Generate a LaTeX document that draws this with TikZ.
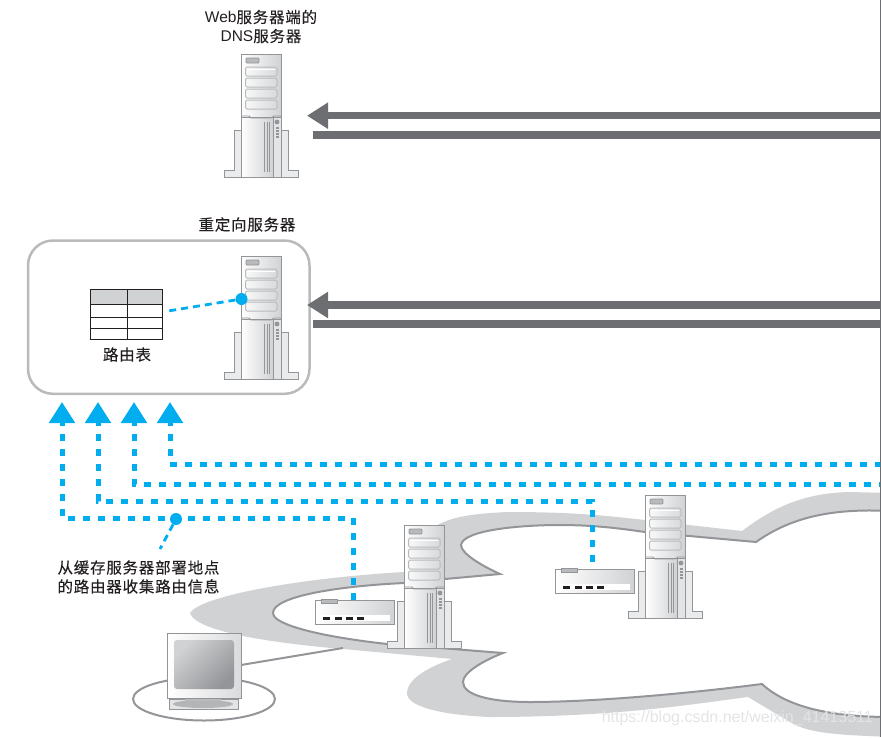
\documentclass[tikz,border=0pt]{standalone}
\usepackage{fontspec}
\setmainfont{Liberation Sans}
\newfontfamily\cjk[LetterSpace=5,FakeBold=0.15]{Noto Sans CJK SC}
\usetikzlibrary{arrows.meta}
\definecolor{ink}{HTML}{231F20}
\definecolor{skyb}{HTML}{00AEEF}
\definecolor{cloudg}{HTML}{D1D2D4}
\definecolor{edgeg}{HTML}{939598}
\definecolor{arrowg}{HTML}{6D6E71}
\definecolor{boxg}{HTML}{B9BABC}
\tikzset{
  lbl/.style={font=\fontsize{15.5}{19}\selectfont,text=ink,align=center,inner sep=0pt},
  part/.style={draw=edgeg,line width=.8pt},
  bay/.style={draw=boxg,line width=1pt,rounded corners=1.5pt,left color=cloudg!15,right color=cloudg!85},
  feed/.style={draw=skyb,line width=5pt,dash pattern=on 7pt off 8pt,dash phase=#1,-{Triangle[length=21pt,width=25pt]}},
  leader/.style={draw=skyb,line width=2.8pt,dash pattern=on 7pt off 5pt},
  dot/.style={circle,fill=skyb,inner sep=0pt,minimum size=12pt},
  flow/.style={draw=arrowg,line width=7.5pt},
  flowtip/.style={flow,-{Triangle[length=21pt,width=25pt]}},
  server/.pic={
    % feet
    \draw[part,fill=cloudg!45] (-7,76) -- (0,76) -- (0,123) -- (-17,123) -- (-17,116) -- (-7,116) -- cycle;
    \draw[part,fill=cloudg!45] (47,76) -- (40,76) -- (40,123) -- (57,123) -- (57,116) -- (47,116) -- cycle;
    % tower
    \draw[part,left color=white,right color=cloudg] (0,0) rectangle (40,63);
    \draw[part,left color=white,right color=cloudg] (0,63) rectangle (32,123);
    \draw[part,fill=cloudg!60] (32,63) rectangle (40,123);
    \draw[part] (0,62) -- (8,62) -- (10,64) -- (30,64) -- (33,62) -- (40,62);
    \draw[part,fill=boxg,rounded corners=1pt] (5,4) rectangle (18,9);
    \draw[bay] (4.5,13) rectangle (36,22);
    \draw[draw=white,line width=1pt] (6,15.5) -- (34,15.5);
    \draw[bay] (4.5,24) rectangle (36,33);
    \draw[bay] (4.5,35) rectangle (36,44);
    \draw[bay] (4.5,46) rectangle (36,55);
    \fill[edgeg] (36,68) circle (2.4);
    \foreach \yy in {73,76,79,82} \fill[edgeg] (34.5,\yy) rectangle (37.5,\yy+1.6);
    \foreach \xx in {23.5,26,28.5} \draw[edgeg,line width=.9pt] (\xx,68) -- (\xx,118);
  },
  router/.pic={
    \draw[part,left color=white,right color=cloudg] (0,0) rectangle (79,24);
    \draw[part,fill=boxg] (6,-.5) rectangle (22,3.5);
    \fill[white] (5,15) rectangle (75,21);
    \foreach \xx in {8,20,31,42} \fill[ink] (\xx,16.5) rectangle (\xx+7,19.5);
  },
}
\begin{document}
\begin{tikzpicture}[x=1pt,y=-1pt]
\useasboundingbox (0,0) rectangle (881,737);
\begin{scope}
\clip (0,0) rectangle (881,737);
% cloud band
\fill[cloudg] (190,613)
  .. controls (200,596) and (300,578) .. (404,572)
  .. controls (420,520) and (450,515) .. (507,512)
  .. controls (570,512) and (600,515) .. (645,520)
  -- (742,531)
  .. controls (770,510) and (800,493) .. (850,492)
  -- (890,493) -- (890,737)
  .. controls (850,735) and (810,735) .. (790,722)
  -- (748,697)
  .. controls (700,703) and (620,717) .. (490,717)
  .. controls (440,715) and (405,706) .. (407,692)
  .. controls (408,680) and (425,668) .. (452,659)
  -- (343,649)
  .. controls (260,642) and (195,630) .. (190,613) -- cycle;
% cloud inside
\draw[fill=white,draw=edgeg,line width=2pt] (273,613)
  .. controls (273,596) and (340,586) .. (404,583)
  -- (445,579) -- (500,574)
  .. controls (480,565) and (461,553) .. (461,545)
  .. controls (463,530) and (520,525) .. (560,525)
  .. controls (600,525) and (630,530) .. (645,532)
  -- (756,542)
  .. controls (790,518) and (830,508) .. (890,511)
  -- (890,717)
  .. controls (840,717) and (790,710) .. (762,684)
  .. controls (700,692) and (600,702) .. (530,702)
  .. controls (490,702) and (463,695) .. (463,682)
  .. controls (463,672) and (485,660) .. (503,653)
  -- (440,648)
  .. controls (370,645) and (273,630) .. (273,613) -- cycle;
\end{scope}
% computer
\draw[edgeg,line width=2pt] (204,699) ellipse (71 and 21.5);
\coordinate (pcport) at (241,665);
\coordinate (lanport) at (343,648);
\draw[edgeg,line width=2pt] (pcport) -- (lanport);
\draw[part,fill=cloudg!60] (169,699) rectangle (238,709);
\fill[edgeg!70] (203,704) ellipse (30 and 4);
\fill[boxg] (185,698) rectangle (221,701);
\draw[part,left color=white,right color=cloudg!80] (167,633) rectangle (241,698);
\shade[rounded corners=3pt,left color=cloudg,right color=edgeg,shading angle=45] (174,640) rectangle (234,689);
% servers
\pic at (241,54) {server};
\pic at (404,525) {server};
\pic at (645,495) {server};
% routers
\pic at (315,600) {router};
\pic at (555,569) {router};
% box with routing table
\node[draw=boxg,line width=2.5pt,rounded corners=25pt,minimum width=281.5pt,minimum height=153.3pt,inner sep=0pt,outer sep=0pt,anchor=north west] (box) at (28,240.5) {};
\pic at (241,256) {server};
\draw[draw=ink,line width=1pt,fill=cloudg] (90,289) rectangle (162,304);
\draw[draw=ink,line width=1pt] (90,304) rectangle (162,339) (90,317) -- (162,317) (90,328) -- (162,328) (127,289) -- (127,339);
% dots and leaders
\node[dot] (tabdot) at (241.5,299) {};
\coordinate (tabend) at (168,311);
\draw[leader] (tabdot) -- (tabend);
\node[dot] (infodot) at (176,519) {};
\coordinate (infoend) at (160,549);
\draw[leader] (infodot) -- (infoend);
% feeds, the phase lines the dashes up under the arrow heads
\coordinate (r1) at (353,600);
\coordinate (r2) at (592.5,568);
\coordinate (e3) at (881,484);
\coordinate (e4) at (881,464);
\draw[feed=0pt] (r1) -- (353,518) -- (62,518) -- (62,402);
\draw[feed=8.5pt] (r2) -- (592.5,501) -- (98,501) -- (98,402);
\draw[feed=5pt] (e3) -- (134,484) -- (134,402);
\draw[feed=1pt] (e4) -- (170,464) -- (170,402);
% grey flows
\coordinate (a1) at (881,115.7);
\coordinate (a1t) at (307,115.7);
\coordinate (b1) at (881,134.8);
\coordinate (b1e) at (313,134.8);
\coordinate (a2) at (881,305);
\coordinate (a2t) at (307,305);
\coordinate (b2) at (881,324);
\coordinate (b2e) at (313,324);
\draw[flowtip] (a1) -- (a1t);
\draw[flow] (b1) -- (b1e);
\draw[flowtip] (a2) -- (a2t);
\draw[flow] (b2) -- (b2e);
% right rule of the page
\coordinate (ruletop) at (880.5,0);
\coordinate (rulebot) at (880.5,737);
\draw[arrowg,line width=1pt] (ruletop) -- (rulebot);
% labels
\node[lbl] at (261,26.5) {Web{\cjk 服务器端的}\\DNS{\cjk 服务器}};
\node[lbl] at (247,224.5) {\cjk 重定向服务器};
\node[lbl] at (127,354.5) {\cjk 路由表};
\node[lbl] at (138.5,577) {\cjk 从缓存服务器部署地点\\\cjk 的路由器收集路由信息};
\node[font=\fontsize{16}{18}\selectfont,text=cloudg!60,inner sep=0pt,anchor=east] at (873,718) {https://blog.csdn.net/weixin\_41413511};
\end{tikzpicture}
\end{document}
